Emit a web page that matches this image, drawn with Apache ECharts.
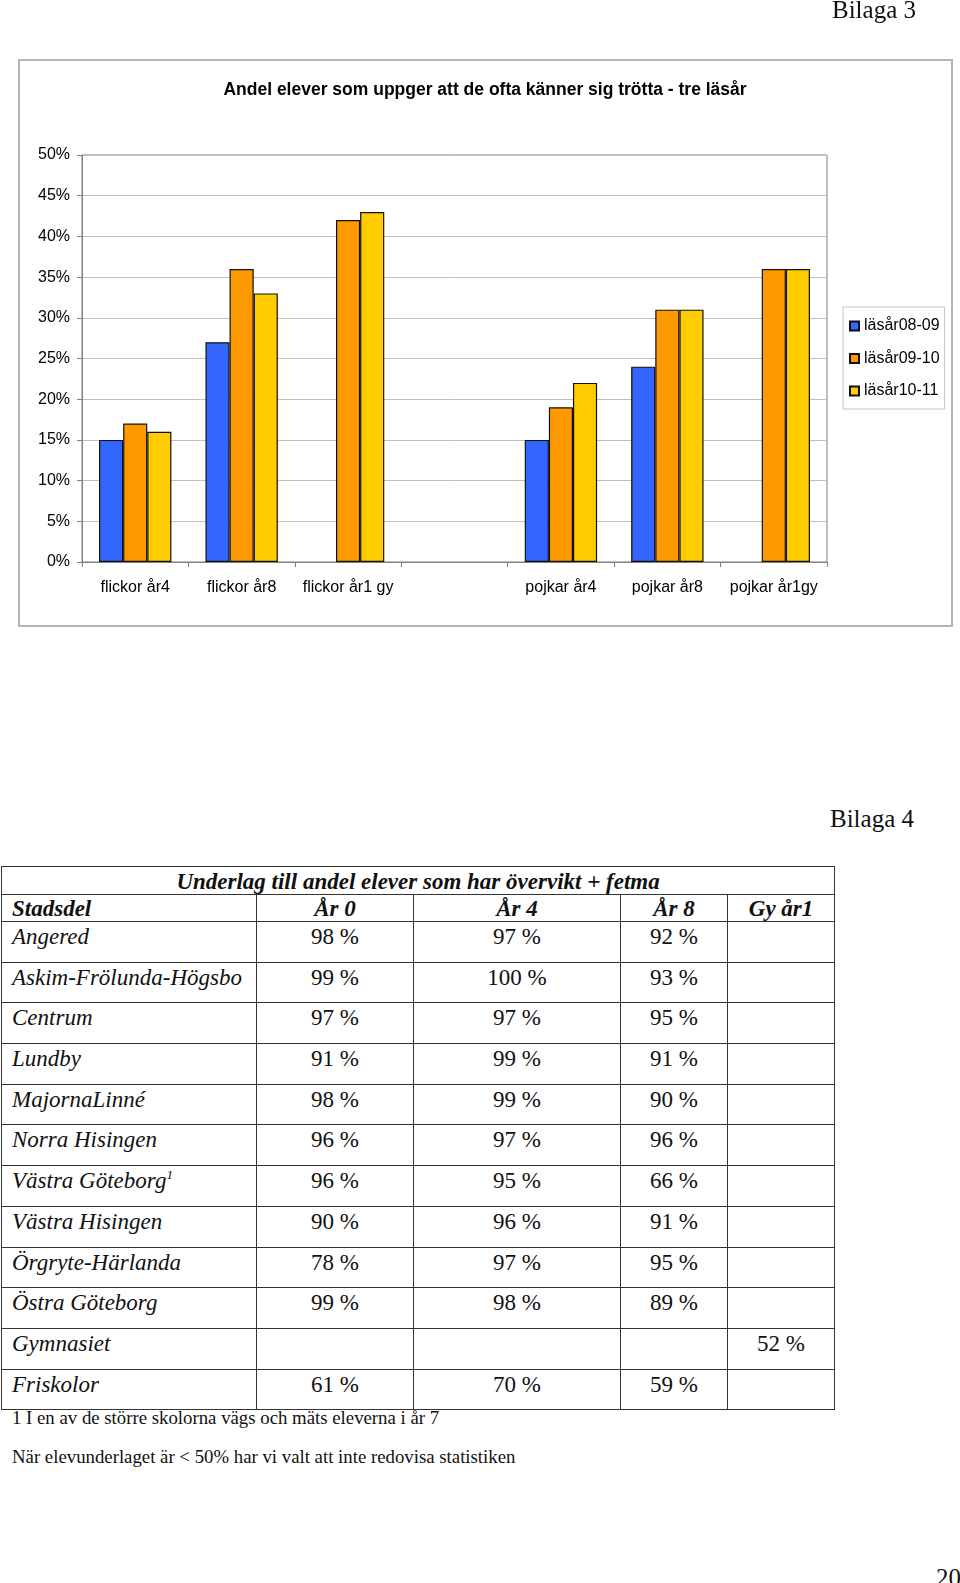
<!DOCTYPE html>
<html><head><meta charset="utf-8">
<script src="https://cdn.jsdelivr.net/npm/echarts@6/dist/echarts.min.js"></script>
<style>
html,body{margin:0;padding:0;background:#fff;}
body{width:960px;height:1583px;overflow:hidden;position:relative;font-family:"Liberation Serif","Times New Roman",serif;color:#111;}
#chart{position:absolute;left:0;top:0;width:960px;height:640px;}
.txt{position:absolute;white-space:nowrap;}
.bilaga{font-size:25px;line-height:28px;}
#tbl{position:absolute;left:1px;top:866px;border-collapse:collapse;table-layout:fixed;width:833px;font-style:italic;font-size:23px;}
#tbl td{border:1.5px solid #333;padding:0;vertical-align:top;line-height:24px;overflow:hidden;white-space:nowrap;}
#tbl tr.title td{font-weight:bold;text-align:center;height:27px;padding-top:3px;box-sizing:border-box;}
#tbl tr.head td{font-weight:bold;height:27px;padding-top:2px;box-sizing:border-box;}
#tbl tr.row td{height:40.7px;padding-top:3px;box-sizing:border-box;}
#tbl td.name{text-align:left;padding-left:10px;}
#tbl td.val{text-align:center;font-style:normal;}
#tbl tr.head td.val{font-style:italic;}
#tbl sup{font-size:13px;line-height:0;vertical-align:9px;}
.foot{font-size:18.8px;line-height:20px;}
</style>
</head><body>
<div id="chart"></div>
<div class="txt bilaga" style="left:832px;top:-4px;">Bilaga 3</div>
<div class="txt bilaga" style="left:830px;top:805px;">Bilaga 4</div>
<table id="tbl"><colgroup><col style="width:255px"><col style="width:157px"><col style="width:207px"><col style="width:107px"><col style="width:107px"></colgroup><tbody id="tbody"></tbody></table>
<div class="txt foot" id="foot1" style="left:12px;top:1408px;"></div>
<div class="txt foot" id="foot2" style="left:12px;top:1447px;"></div>
<div class="txt bilaga" style="left:936px;top:1564px;">20</div>
<script>
// ---- chart data ----
const categories = ['flickor år4', 'flickor år8', 'flickor år1 gy', '', 'pojkar år4', 'pojkar år8', 'pojkar år1gy'];
const seriesNames = ['läsår08-09', 'läsår09-10', 'läsår10-11'];
const lasar0809 = [15, 27, null, null, 15, 24, null];
const lasar0910 = [17, 36, 42, null, 19, 31, 36];
const lasar1011 = [16, 33, 43, null, 22, 31, 36];
const chartTitle = 'Andel elever som uppger att de ofta känner sig trötta - tre läsår';

// ---- table data ----
const tableTitle = 'Underlag till andel elever som har övervikt + fetma';
const tableHeaders = ['Stadsdel', 'År 0', 'År 4', 'År 8', 'Gy år1'];
const stadsdelar = ['Angered', 'Askim-Frölunda-Högsbo', 'Centrum', 'Lundby', 'MajornaLinné', 'Norra Hisingen', 'Västra Göteborg', 'Västra Hisingen', 'Örgryte-Härlanda', 'Östra Göteborg', 'Gymnasiet', 'Friskolor'];
const footMarks = ['', '', '', '', '', '', '1', '', '', '', '', ''];
const ar0 = ['98 %', '99 %', '97 %', '91 %', '98 %', '96 %', '96 %', '90 %', '78 %', '99 %', '', '61 %'];
const ar4 = ['97 %', '100 %', '97 %', '99 %', '99 %', '97 %', '95 %', '96 %', '97 %', '98 %', '', '70 %'];
const ar8 = ['92 %', '93 %', '95 %', '91 %', '90 %', '96 %', '66 %', '91 %', '95 %', '89 %', '', '59 %'];
const gyAr1 = ['', '', '', '', '', '', '', '', '', '', '52 %', ''];
const footnote1 = '1 I en av de större skolorna vägs och mäts eleverna i år 7';
const footnote2 = 'När elevunderlaget är < 50% har vi valt att inte redovisa statistiken';

// build table
const tb = document.getElementById('tbody');
function el(tag, cls, html) { const e = document.createElement(tag); if (cls) e.className = cls; if (html !== undefined) e.innerHTML = html; return e; }
function esc(s) { return s.replace(/&/g, '&amp;').replace(/</g, '&lt;'); }
const trT = el('tr', 'title'); const tdT = el('td', '', esc(tableTitle)); tdT.colSpan = 5; trT.appendChild(tdT); tb.appendChild(trT);
const trH = el('tr', 'head');
tableHeaders.forEach((h, i) => trH.appendChild(el('td', i === 0 ? 'name' : 'val', esc(h))));
tb.appendChild(trH);
stadsdelar.forEach((n, i) => {
  const tr = el('tr', 'row');
  tr.appendChild(el('td', 'name', esc(n) + (footMarks[i] ? '<sup>' + footMarks[i] + '</sup>' : '')));
  [ar0, ar4, ar8, gyAr1].forEach(col => tr.appendChild(el('td', 'val', esc(col[i]))));
  tb.appendChild(tr);
});
document.getElementById('foot1').textContent = footnote1;
document.getElementById('foot2').textContent = footnote2;

// build chart
const sans = '"Liberation Sans", Arial, sans-serif';
const colors = ['#3366ff', '#ff9900', '#ffcc00'];
const values = [lasar0809, lasar0910, lasar1011];
const chart = echarts.init(document.getElementById('chart'), null, { renderer: 'canvas' });
chart.setOption({
  animation: false,
  backgroundColor: '#fff',
  textStyle: { fontFamily: sans },
  graphic: [{
    type: 'rect', silent: true,
    shape: { x: 19, y: 60, width: 933, height: 566 },
    style: { fill: 'none', stroke: '#b4b4b4', lineWidth: 2 }
  }],
  title: {
    text: chartTitle, left: 485, top: 81, textAlign: 'center', padding: 0,
    textStyle: { fontFamily: sans, fontSize: 17.5, fontWeight: 'bold', color: '#000' }
  },
  legend: {
    orient: 'vertical', left: 843, top: 307,
    padding: [11, 5, 10, 6], itemGap: 16.5, itemWidth: 9, itemHeight: 9,
    icon: 'rect', borderColor: '#c4c4c4', borderWidth: 1,
    textStyle: { fontFamily: sans, fontSize: 16, color: '#000' },
    data: seriesNames
  },
  grid: {
    left: 82, top: 155, width: 745, height: 407, outerBoundsMode: 'none', containLabel: false,
    show: true, borderColor: '#808080', borderWidth: 1, backgroundColor: 'transparent'
  },
  xAxis: {
    type: 'category', data: categories,
    axisLine: { lineStyle: { color: '#808080', width: 1 } },
    axisTick: { show: true, length: 5, alignWithLabel: false, lineStyle: { color: '#808080' } },
    axisLabel: { interval: 0, fontSize: 16, color: '#000', margin: 18, fontFamily: sans },
    splitLine: { show: false }
  },
  yAxis: {
    type: 'value', min: 0, max: 50, interval: 5,
    axisLine: { show: true, lineStyle: { color: '#808080', width: 1 } },
    axisTick: { show: true, length: 5, lineStyle: { color: '#808080' } },
    axisLabel: { formatter: '{value}%', fontSize: 16, color: '#000', margin: 12, fontFamily: sans },
    splitLine: { show: true, lineStyle: { color: '#c0c0c0', width: 1 } }
  },
  series: seriesNames.map((name, i) => ({
    name, type: 'bar', data: values[i],
    barGap: '0%', barCategoryGap: '32%',
    itemStyle: { color: colors[i], borderColor: '#111', borderWidth: 1.2 }
  }))
});
</script>
</body></html>
